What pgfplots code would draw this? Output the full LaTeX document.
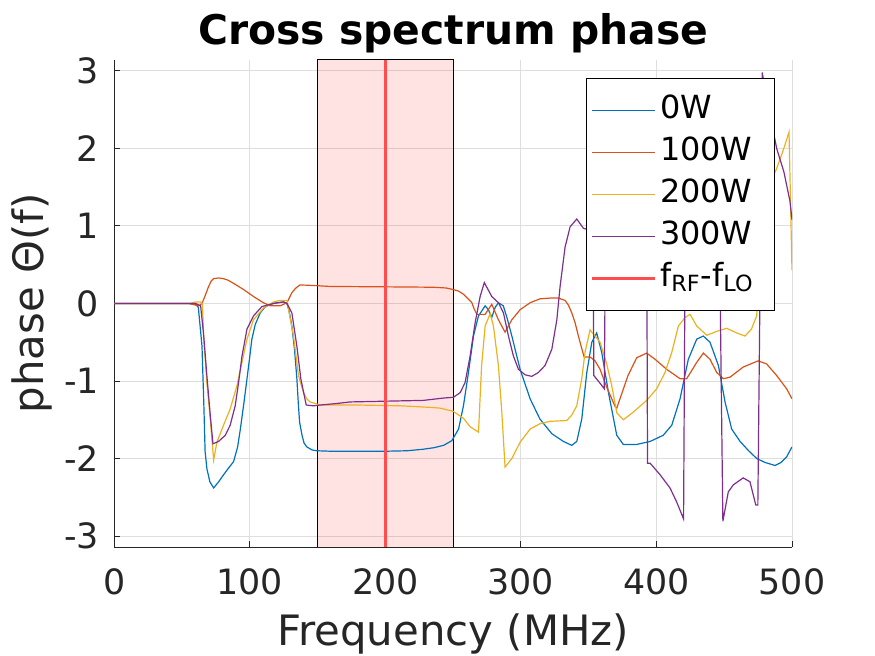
\documentclass[border=0pt]{standalone}
\usepackage{fontspec}
\setmainfont{DejaVu Sans}
\usepackage{pgfplots}
\pgfplotsset{compat=1.18}
\definecolor{c0}{rgb}{0,0.447,0.741}
\definecolor{c1}{rgb}{0.85,0.325,0.098}
\definecolor{c2}{rgb}{0.929,0.694,0.125}
\definecolor{c3}{rgb}{0.494,0.184,0.556}
\definecolor{redline}{RGB}{255,77,77}
\definecolor{axisgray}{rgb}{0.15,0.15,0.15}
\begin{document}
\begin{tikzpicture}
\path[use as bounding box] (-57.15bp,-54.5bp) rectangle (380.35bp,273.5bp);
\begin{axis}[
  scale only axis, width=338.85bp, height=243.5bp,
  at={(0,0)}, anchor=south west,
  xmin=0, xmax=500, ymin=-3.14159, ymax=3.14159,
  axis lines*=left,
  axis line style={draw=axisgray, line width=0.5bp},
  xtick={0,100,200,300,400,500}, xticklabels={0,100,200,300,400,500},
  ytick={-3,-2,-1,0,1,2,3}, yticklabels={-3,-2,-1,0,1,2,3},
  tick align=inside, major tick length=3bp,
  tick style={draw=axisgray, line width=0.5bp},
  grid=major, major grid style={draw=black!13, line width=0.5bp},
  ticklabel style={font=\fontsize{17.5}{21}\selectfont, text=axisgray},
  xticklabel style={anchor=north, inner sep=0pt, yshift=-10.5bp},
  yticklabel style={anchor=east, inner sep=0pt, xshift=-7.5bp},
  xlabel={Frequency (MHz)},
  ylabel={phase Θ(f)},
  xlabel style={font=\fontsize{21}{25}\selectfont, text=axisgray, at={(0.5,0)}, anchor=base, yshift=-49bp, inner sep=0pt},
  ylabel style={font=\fontsize{21}{25}\selectfont, text=axisgray, at={(0,0.5)}, anchor=base, yshift=35.4bp, inner sep=0pt},
  title={Cross spectrum phase},
  title style={font=\bfseries\fontsize{20.5}{24}\selectfont, at={(0.5,1)}, anchor=base, yshift={7.5bp-6pt}, inner sep=0pt},
  legend style={at={(0.975,0.963)}, anchor=north east, line width=0.5bp,
    font=\fontsize{16}{19}\selectfont, inner xsep=2bp, inner ysep=5.5bp,
    nodes={inner xsep=1.5bp, inner ysep=2.5bp, text height=12bp, text depth=4bp}},
  legend cell align=left,
  legend image code/.code={\draw[#1] (0bp,0bp) -- (31.5bp,0bp);},
]
\addplot[fill=red, fill opacity=0.11, draw=black, line width=0.5bp, forget plot]
  coordinates {(150,-3.14159) (250,-3.14159) (250,3.14159) (150,3.14159)} -- cycle;

\addplot[color=c0, draw=c0, line width=0.6bp] coordinates {
(0,0) (55,0) (60,-0.01) (62,-0.05) (64.7,-0.55) (66,-1.27) (67,-1.91) (68.3,-2.13) (70.5,-2.3) (73.3,-2.38) (77,-2.3) (80.6,-2.21) (84,-2.13) (88,-2.04) (91,-1.85) (93,-1.62) (95.5,-1.3) (97.9,-0.97) (100,-0.68) (101.5,-0.46) (104,-0.27) (107.7,-0.12) (111,-0.05) (115,-0.01) (120,0.01) (124.9,0.02) (127.4,0) (129,-0.1) (131,-0.29) (133,-0.6) (134.7,-0.97) (135.8,-1.3) (136.7,-1.53) (138.5,-1.7) (140,-1.8) (142,-1.85) (146,-1.89) (149.5,-1.9) (160,-1.906) (180,-1.906) (200,-1.906) (216,-1.9) (228,-1.88) (236,-1.86) (243,-1.83) (249,-1.77) (254,-1.62) (257.6,-1.32) (261.3,-0.89) (265,-0.42) (268.7,-0.16) (273.6,-0.03) (276,-0.08) (278.5,-0.18) (281,-0.05) (283.4,0.01) (287,-0.03) (290,-0.2) (293.3,-0.42) (299.4,-0.85) (306.8,-1.23) (314,-1.49) (322.8,-1.68) (331.4,-1.78) (337.5,-1.83) (341.2,-1.78) (344.9,-1.49) (348.6,-0.89) (352.3,-0.5) (355.9,-0.38) (359.6,-0.63) (364.6,-1.15) (370.7,-1.7) (375.6,-1.82) (385,-1.82) (395.3,-1.78) (405,-1.7) (411.3,-1.57) (417.4,-1.23) (423.5,-0.72) (429.7,-0.46) (434.6,-0.42) (439.5,-0.5) (445.7,-0.8) (450.6,-1.27) (455.5,-1.62) (461.7,-1.78) (468,-1.9) (474,-2.0) (480,-2.05) (487.5,-2.09) (492,-2.05) (496,-1.98) (500,-1.85)
};
\addlegendentry{0W\hspace*{7bp}}

\addplot[color=c1, draw=c1, line width=0.6bp] coordinates {
(0,0) (55,0) (60,-0.02) (62.5,-0.03) (64.7,0) (67,0.1) (69.6,0.22) (71.5,0.29) (73.3,0.32) (77,0.33) (80.6,0.32) (84,0.3) (88,0.26) (95.4,0.18) (102.7,0.09) (110,0.01) (115,-0.03) (122.4,-0.03) (127.4,0.01) (131,0.14) (134,0.2) (137,0.24) (149.5,0.23) (159,0.22) (200,0.215) (235,0.21) (245,0.2) (250,0.18) (254,0.16) (257.6,0.12) (260.5,0.07) (263.8,0.01) (265.5,-0.07) (267.5,-0.14) (273.6,-0.14) (278.5,-0.01) (283.4,-0.21) (288.3,-0.37) (293.3,-0.21) (299.4,-0.08) (306.8,0.01) (314,0.06) (321.5,0.07) (327.7,0.07) (332.6,0.04) (335,-0.02) (337.5,-0.12) (340,-0.25) (342.4,-0.42) (346.6,-0.69) (351,-0.69) (354.7,-0.74) (358.4,-0.85) (363.3,-1.08) (369.5,-1.33) (370.7,-1.35) (379,-0.93) (385.4,-0.7) (392.8,-0.64) (399,-0.72) (407.6,-0.85) (417.4,-0.97) (422.3,-0.97) (429.7,-0.76) (434.6,-0.64) (439.5,-0.72) (444.5,-0.89) (449.3,-0.97) (454.3,-0.95) (464,-0.82) (475,-0.74) (481.3,-0.78) (488.7,-0.93) (496,-1.1) (500,-1.23)
};
\addlegendentry{100W\hspace*{7bp}}

\addplot[color=c2, draw=c2, line width=0.6bp] coordinates {
(0,0) (55,0) (60,0.02) (63.7,0.02) (65,0) (66,-0.46) (68.3,-1.02) (70.8,-1.49) (73.3,-2.02) (75.7,-1.79) (80.6,-1.57) (85.5,-1.36) (90.5,-1.06) (94.2,-0.76) (97.9,-0.46) (102.7,-0.21) (110,-0.06) (117.5,0.02) (122,0.04) (127.4,0.04) (128.6,-0.08) (132.2,-0.42) (135.9,-0.93) (139.6,-1.15) (142,-1.23) (144.5,-1.27) (151.9,-1.31) (180,-1.31) (211,-1.32) (233,-1.34) (240.4,-1.35) (250,-1.39) (257.6,-1.48) (262.5,-1.59) (268.7,-1.66) (271,-0.8) (273.6,-0.29) (277.3,-0.13) (279.7,-0.29) (283.4,-0.8) (285.9,-1.4) (288.3,-2.11) (293.3,-2.0) (299.4,-1.79) (306.8,-1.62) (314.2,-1.55) (321.5,-1.52) (333.8,-1.51) (337.5,-1.44) (341.2,-1.32) (344.9,-0.97) (347.3,-0.63) (351,-0.34) (354.7,-0.42) (358.4,-0.5) (363.3,-0.78) (367,-1.06) (370.7,-1.41) (375.6,-1.5) (383,-1.40) (392.8,-1.25) (400.2,-1.1) (406.3,-0.89) (411.3,-0.63) (416.2,-0.29) (421.1,-0.18) (424.8,-0.14) (429.7,-0.29) (437.1,-0.41) (444.5,-0.36) (451.8,-0.32) (459.2,-0.38) (465.3,-0.42) (470.1,-0.33) (473.9,-0.16) (476,0.3) (478.5,0.9) (481,1.35) (484.5,1.6) (488.2,1.72) (493,1.95) (497.8,2.21) (500,0.43)
};
\addlegendentry{200W\hspace*{7bp}}

\addplot[color=c3, draw=c3, line width=0.6bp] coordinates {
(0,0) (55,0) (60,0) (63.7,-0.03) (66,-0.42) (68.3,-0.93) (70.8,-1.44) (72.8,-1.81) (76.9,-1.78) (81.9,-1.7) (85.5,-1.57) (89.2,-1.32) (91.7,-1.02) (94.2,-0.68) (97.9,-0.33) (102.7,-0.16) (108.9,-0.04) (117.5,0) (124.9,0.02) (127.4,0) (131,-0.12) (134.7,-0.55) (137.6,-0.97) (141.6,-1.31) (147,-1.32) (151.9,-1.31) (164.2,-1.29) (174,-1.27) (228,-1.25) (242.8,-1.22) (250.2,-1.21) (255.2,-1.15) (258.8,-1.02) (262.5,-0.68) (266.2,-0.25) (269.9,0.09) (273,0.27) (278.5,0.09) (283.4,0.01) (287.1,-0.12) (290.8,-0.42) (294.5,-0.68) (298.2,-0.85) (303.1,-0.92) (308,-0.94) (312.9,-0.89) (317.8,-0.8) (322.8,-0.59) (326.5,-0.21) (328.9,0.22) (332.6,0.73) (336.3,0.99) (341.2,1.09) (346.1,0.97) (350,0.95) (353.2,1.0) (353.8,-0.93) (358,-1.02) (361.5,-1.1) (362.8,1.8) (370,2.4) (380,2.6) (390,2.3) (392.6,2.1) (393.4,-2.06) (395.3,-2.06) (402.7,-2.21) (410,-2.38) (414.9,-2.56) (420,-2.78) (421.8,2.7) (430,2.3) (440,1.9) (446,1.6) (449,-2.81) (453,-2.43) (456.7,-2.34) (464,-2.25) (469,-2.3) (473.3,-2.6) (474.8,-2.6) (478,2.98) (483,2.5) (488.7,2.0) (494,1.7) (498.5,1.32) (500,1.08)
};
\addlegendentry{300W\hspace*{7bp}}

\addplot[color=redline, draw=redline, line width=1.8bp] coordinates {(200,-3.14159) (200,3.14159)};
\addlegendentry{f\textsubscript{RF}-f\textsubscript{LO}\hspace*{7bp}}
\end{axis}
\end{tikzpicture}
\end{document}
